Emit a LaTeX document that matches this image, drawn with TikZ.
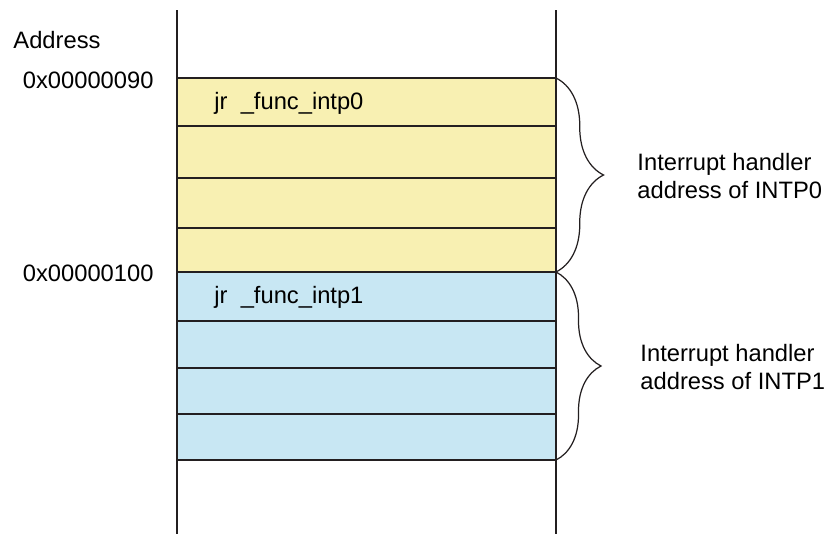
\documentclass[tikz,border=0pt]{standalone}
\usepackage{fontspec}
\setmainfont{Liberation Sans}
\usetikzlibrary{decorations.pathreplacing}
\definecolor{yellowcolor}{RGB}{248,240,178}
\definecolor{bluecolor}{RGB}{200,231,243}
\definecolor{linecolor}{RGB}{35,31,32}

\begin{document}
\begin{tikzpicture}[x=0.02cm, y=-0.02cm, line width=0.7pt, draw=linecolor,
  font=\fontsize{13.5}{16}\selectfont]
\useasboundingbox (0,0) rectangle (827,534);

% Memory table
\draw[fill=yellowcolor] (177,78) rectangle (556,272);
\draw[fill=bluecolor] (177,272) rectangle (556,460);
\foreach \y in {126,178,228,321,368,414}
  \draw (177,\y) -- (556,\y);

% Outer rails
\draw (177,10) -- (177,534);
\draw (556,10) -- (556,534);

% Address labels
\node[anchor=west] (addr) at (7,40) {Address};
\node[anchor=east] (a090) at (160,80) {0x00000090};
\node[anchor=east] (a100) at (160,273) {0x00000100};

% Entries
\node[anchor=west] (jr0) at (208,103) {jr\ \ \_func\_intp0};
\node[anchor=west] (jr1) at (208,297) {jr\ \ \_func\_intp1};

% Braces
\coordinate (b0s) at (556,78);
\coordinate (b0e) at (556,272);
\coordinate (b1s) at (556,272);
\coordinate (b1e) at (556,460);
\draw[decorate, decoration={brace, amplitude=0.95cm}] (b0s) -- (b0e);
\draw[decorate, decoration={brace, amplitude=0.9cm}] (b1s) -- (b1e);

% Labels for handlers
\node[anchor=west, align=left] (h0) at (631,176) {Interrupt handler\\address of INTP0};
\node[anchor=west, align=left] (h1) at (634,367) {Interrupt handler\\address of INTP1};
\end{tikzpicture}
\end{document}
